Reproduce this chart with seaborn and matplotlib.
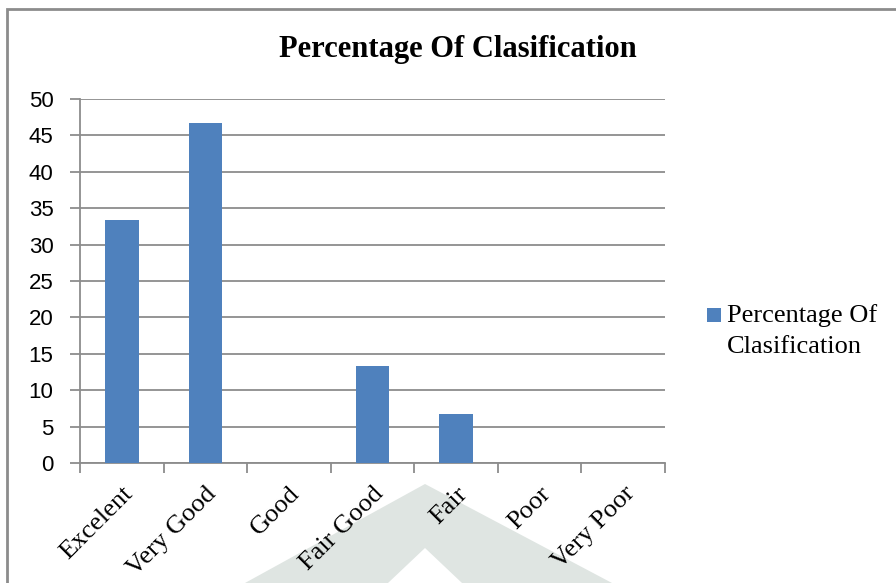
import matplotlib
matplotlib.use("Agg")
import matplotlib.pyplot as plt
from matplotlib.patches import Polygon, Rectangle
import seaborn as sns
import pandas as pd

categories = ["Excelent", "Very Good", "Good", "Fair Good", "Fair", "Poor", "Very Poor"]
percentages = [33.33, 46.67, 0, 13.33, 6.67, 0, 0]
series_name_lines = ["Percentage Of", "Clasification"]

df = pd.DataFrame({"category": categories, "value": percentages})

sns.set_theme(style="white")
plt.rcParams["font.family"] = ["Liberation Sans", "DejaVu Sans"]
plt.rcParams["text.color"] = "black"
serif = ["Liberation Serif", "DejaVu Serif"]
bar_color = "#4f81bd"
line_gray = "#8c8c8c"

fig = plt.figure(figsize=(8.96, 5.83), dpi=100)

# faint watermark chevron behind everything
fig.patches.append(Polygon(
    [(245 / 896, 0), (425 / 896, 1 - 484 / 583), (612 / 896, 0),
     (462 / 896, 0), (425 / 896, 1 - 548 / 583), (388 / 896, 0)],
    closed=True, transform=fig.transFigure, facecolor="#dfe5e2",
    edgecolor="none", zorder=-2))

# outer chart frame
fig.patches.append(Rectangle((7 / 896, -0.01), 1.2, 1 - 9 / 583 + 0.01,
                             transform=fig.transFigure, fill=False,
                             edgecolor=line_gray, linewidth=2, zorder=-1))

ax = fig.add_axes([80 / 896, 1 - 463 / 583, (665 - 80) / 896, (463 - 99) / 583])
ax.patch.set_alpha(0)

sns.barplot(data=df, x="category", y="value", color=bar_color, width=0.4,
            saturation=1, linewidth=0, ax=ax, zorder=3)

ax.set_ylim(0, 50)
ax.set_xlim(-0.5, len(categories) - 0.5)
ax.set_yticks(range(0, 51, 5))
ax.yaxis.grid(True, color=line_gray, linewidth=1.3)
ax.set_axisbelow(True)
ax.set_xlabel("")
ax.set_ylabel("")

for side in ["top", "right"]:
    ax.spines[side].set_visible(False)
for side in ["left", "bottom"]:
    ax.spines[side].set_color(line_gray)
    ax.spines[side].set_linewidth(1.3)

ax.tick_params(axis="y", left=True, length=7, width=1.3, color=line_gray,
               labelcolor="black", labelsize=16, pad=12)
# tick marks between categories, labels centred under bars
ax.set_xticks([i - 0.5 for i in range(len(categories) + 1)], minor=True)
ax.tick_params(axis="x", which="minor", bottom=True, length=7, width=1.3,
               color=line_gray)
ax.tick_params(axis="x", which="major", bottom=False, length=0, pad=14,
               labelcolor="black")
ax.set_xticks(range(len(categories)))
ax.set_xticklabels(categories, rotation=45, ha="right", rotation_mode="anchor",
                   family=serif, fontsize=19)

fig.text(458 / 896, 1 - 50 / 583, "Percentage Of Clasification",
         ha="center", va="center", fontsize=22, fontweight="bold",
         family=serif, color="black")

# legend: square marker beside the first line of the series name
fig.patches.append(Rectangle((707 / 896, 1 - 322 / 583), 14 / 896, 14 / 583,
                             transform=fig.transFigure, facecolor=bar_color,
                             edgecolor="none"))
for i, line in enumerate(series_name_lines):
    fig.text(727 / 896, 1 - (322 + 31 * i) / 583, line, ha="left",
             va="baseline", fontsize=19, family=serif, color="black")

fig.savefig("out.png", dpi=100)
